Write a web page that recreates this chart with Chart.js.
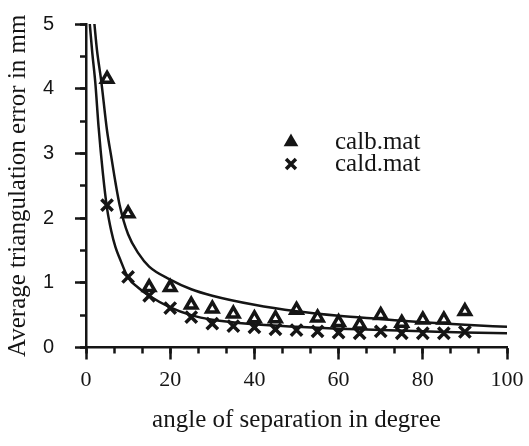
<!DOCTYPE html>
<html>
<head>
<meta charset="utf-8">
<script src="https://cdn.jsdelivr.net/npm/chart.js@4.4.1/dist/chart.umd.min.js"></script>
<style>
  html, body { margin: 0; padding: 0; background: #ffffff; }
  #wrap { width: 529px; height: 446px; position: relative; }
</style>
</head>
<body>
<div id="wrap"><canvas id="c" width="529" height="446"></canvas></div>
<script>
// ---- data ----
const angles = [5, 10, 15, 20, 25, 30, 35, 40, 45, 50, 55, 60, 65, 70, 75, 80, 85, 90];
const calbMat = [4.15, 2.07, 0.93, 0.93, 0.66, 0.60, 0.52, 0.45, 0.45, 0.58, 0.46, 0.39, 0.35, 0.50, 0.38, 0.43, 0.43, 0.56];
const caldMat = [2.20, 1.09, 0.80, 0.61, 0.47, 0.37, 0.33, 0.31, 0.28, 0.27, 0.25, 0.23, 0.22, 0.25, 0.22, 0.22, 0.22, 0.24];

// fitted curves
const upperCurveX = [2.0, 2.6, 3.6, 5, 6, 7, 8, 10, 12.5, 15, 20, 25, 30, 40, 50, 60, 70, 80, 90, 100];
const upperCurveY = [5.0, 4.6, 4.13, 3.35, 2.95, 2.55, 2.2, 1.75, 1.45, 1.25, 1.05, 0.9, 0.8, 0.66, 0.56, 0.49, 0.44, 0.39, 0.35, 0.32];
const lowerCurveX = [0.9, 1.5, 2.2, 3, 4, 5, 6, 7, 8, 10, 12.5, 15, 20, 25, 30, 40, 50, 60, 70, 80, 90, 100];
const lowerCurveY = [5.0, 4.55, 4.1, 3.4, 2.7, 2.15, 1.8, 1.55, 1.38, 1.08, 0.92, 0.8, 0.62, 0.5, 0.43, 0.36, 0.32, 0.29, 0.27, 0.25, 0.23, 0.22];

const xMajorTicks = [0, 20, 40, 60, 80, 100];
const yMajorTicks = [0, 1, 2, 3, 4, 5];
const legendLabels = ['calb.mat', 'cald.mat'];
const xTitle = 'angle of separation in degree';
const yTitle = 'Average triangulation error in mm';

const toPts = (xs, ys) => xs.map((x, i) => ({ x: x, y: ys[i] }));

const INK = '#151515';
const serif = '"Liberation Serif", "Times New Roman", serif';
const sans = '"Liberation Sans", Arial, sans-serif';

const legendPlugin = {
  id: 'insideLegend',
  afterDatasetsDraw(chart) {
    const ctx = chart.ctx;
    const a = chart.chartArea;
    const mx = a.left + 205;
    const tx = a.left + 249;
    const rows = [a.top + 118, a.top + 140];
    ctx.save();
    ctx.fillStyle = INK;
    ctx.strokeStyle = INK;
    ctx.lineWidth = 2.5;
    Chart.helpers.drawPoint(ctx, { pointStyle: 'triangle', radius: 6, borderWidth: 2.5, rotation: 0 }, mx, rows[0]);
    ctx.fill();
    ctx.lineWidth = 3.5;
    Chart.helpers.drawPoint(ctx, { pointStyle: 'crossRot', radius: 7, borderWidth: 3.5, rotation: 0 }, mx, rows[1]);
    ctx.font = '25px ' + serif;
    ctx.textAlign = 'left';
    ctx.textBaseline = 'middle';
    ctx.fillText(legendLabels[0], tx, rows[0]);
    ctx.fillText(legendLabels[1], tx, rows[1]);
    ctx.restore();
  }
};

new Chart(document.getElementById('c'), {
  type: 'scatter',
  data: {
    datasets: [
      {
        label: 'calb.mat',
        data: toPts(angles, calbMat),
        pointStyle: 'triangle',
        pointRadius: 6.5,
        pointBorderWidth: 3.5,
        pointBorderColor: INK,
        pointBackgroundColor: 'rgba(255,255,255,0)',
        showLine: false
      },
      {
        label: 'cald.mat',
        data: toPts(angles, caldMat),
        pointStyle: 'crossRot',
        pointRadius: 8,
        pointBorderWidth: 3.5,
        pointBorderColor: INK,
        showLine: false
      },
      {
        label: 'fit calb',
        data: toPts(upperCurveX, upperCurveY),
        showLine: true,
        pointRadius: 0,
        borderColor: INK,
        borderWidth: 2.5,
        cubicInterpolationMode: 'monotone',
        fill: false
      },
      {
        label: 'fit cald',
        data: toPts(lowerCurveX, lowerCurveY),
        showLine: true,
        pointRadius: 0,
        borderColor: INK,
        borderWidth: 2.5,
        cubicInterpolationMode: 'monotone',
        fill: false
      }
    ]
  },
  options: {
    responsive: false,
    animation: false,
    events: [],
    layout: { padding: { top: 24, right: 22, left: 0, bottom: 0 } },
    plugins: { legend: { display: false }, tooltip: { enabled: false } },
    scales: {
      x: {
        type: 'linear', position: 'bottom', weight: 1,
        min: 0, max: 100,
        afterBuildTicks: s => { s.ticks = xMajorTicks.map(v => ({ value: v })); },
        afterFit: s => { s.height = 98.5; s.paddingLeft = 0; s.paddingRight = 0; },
        border: { display: true, color: INK, width: 2.5 },
        grid: { drawOnChartArea: false, drawTicks: true, tickLength: 12, tickWidth: 2.5, tickColor: INK },
        ticks: { color: INK, font: { family: serif, size: 22 }, padding: 8, maxRotation: 0 },
        title: { display: true, text: xTitle, color: INK, font: { family: serif, size: 25 }, padding: { top: 0, bottom: 11 } }
      },
      xMinor: {
        type: 'linear', position: 'bottom', weight: 0,
        min: 0, max: 100,
        ticks: { display: false, stepSize: 20 / 3 },
        afterFit: s => { s.height = 0; s.paddingLeft = 0; s.paddingRight = 0; },
        border: { display: false },
        grid: { drawOnChartArea: false, drawTicks: true, tickLength: 6, tickWidth: 2.5, tickColor: INK }
      },
      y: {
        type: 'linear', position: 'left', weight: 1,
        min: 0, max: 5,
        afterBuildTicks: s => { s.ticks = yMajorTicks.map(v => ({ value: v })); },
        afterFit: s => { s.width = 86; s.paddingTop = 0; s.paddingBottom = 0; },
        border: { display: true, color: INK, width: 2.5 },
        grid: { drawOnChartArea: false, drawTicks: true, tickLength: 11, tickWidth: 2.5, tickColor: INK },
        ticks: { color: INK, font: { family: sans, size: 20 }, padding: 21 },
        title: { display: true, text: yTitle, color: INK, font: { family: serif, size: 25 }, padding: { top: 3, bottom: 0 } }
      },
      yMinor: {
        type: 'linear', position: 'left', weight: 0,
        min: 0, max: 5,
        ticks: { display: false, stepSize: 0.5 },
        afterFit: s => { s.width = 0; s.paddingTop = 0; s.paddingBottom = 0; },
        border: { display: false },
        grid: { drawOnChartArea: false, drawTicks: true, tickLength: 6, tickWidth: 2.5, tickColor: INK }
      }
    }
  },
  plugins: [legendPlugin]
});
</script>
</body>
</html>
